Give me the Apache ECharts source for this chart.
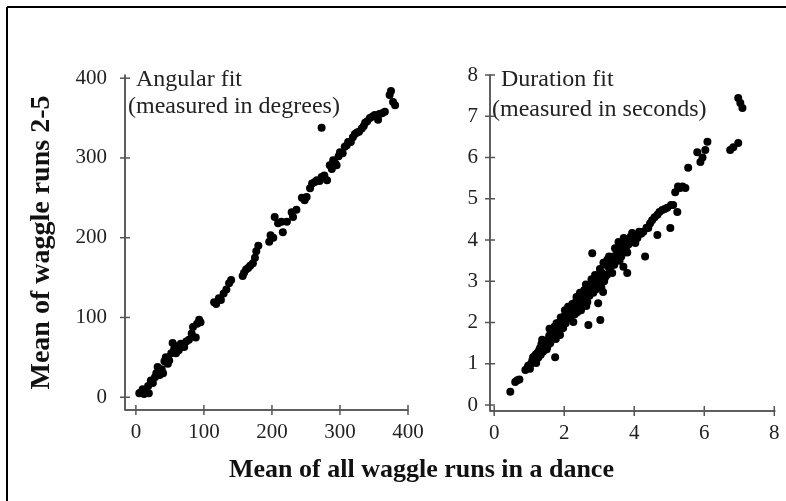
<!DOCTYPE html>
<html>
<head>
<meta charset="utf-8">
<script src="https://cdn.jsdelivr.net/npm/echarts@6/dist/echarts.min.js"></script>
<style>
html,body{margin:0;padding:0;background:#fff}
#main{width:786px;height:501px}
</style>
</head>
<body>
<div id="main"></div>
<script>
// tick labels
var angTicks = [0, 100, 200, 300, 400]
var durTicks = [0, 1, 2, 3, 4, 5, 6, 7, 8]
var durXTicks = [0, 2, 4, 6, 8]

// axis ranges
var angXRange = [-16, 400]
var angYRange = [-16, 404]
var durXRange = [-0.12, 8.02]
var durYRange = [-0.145, 8]

// angular fit: [mean of all runs, mean of runs 2-5] (degrees)
var angPoints = [
    [5,5],[7,6],[10,10],[12,4],[15,9],[18,14],[19,5],[22,21],[25,18],[28,25],[30,30],[32,38],
    [35,28],[38,35],[40,30],[42,45],[44,50],[47,42],[49,46],[52,55],[54,68],[56,60],[59,55],
    [61,64],[63,59],[66,67],[71,63],[74,70],[78,72],[82,80],[84,88],[88,75],[90,92],[93,97],[95,94],
    [115,119],[118,117],[122,124],[125,122],[129,130],[133,135],[137,143],[140,147],
    [157,152],[159,156],[162,160],[165,162],[168,165],[172,168],[175,175],[177,183],[180,190],
    [196,195],[198,203],[202,200],[204,226],[209,218],[214,220],[216,207],[222,220],[229,232],
    [231,226],[236,235],[244,250],[248,247],[251,251],[256,262],[259,268],[263,270],[266,272],
    [270,271],[273,276],[277,278],[281,272],[285,291],[288,286],[290,297],[293,293],[295,291],
    [298,302],[300,307],[304,306],[307,314],[310,316],[312,320],[316,320],[319,326],[322,330],
    [325,332],[328,333],[332,337],[335,340],[337,344],[340,346],[344,350],[348,352],[351,354],
    [356,348],[358,355],[362,356],[366,358],[373,379],[375,384],[378,370],[381,366],[273,338]
]

// duration fit: [mean of all runs, mean of runs 2-5] (seconds)
var durPoints = [
    [0.46,0.32],[0.6,0.56],[0.66,0.6],[0.72,0.62],[0.89,0.85],[0.95,0.9],[0.97,0.95],[1.02,0.88],
    [1.05,1.0],[1.09,1.09],[1.11,1.16],[1.15,1.05],[1.2,1.02],[1.23,1.26],[1.26,1.15],[1.28,1.32],
    [1.31,1.38],[1.33,1.22],[1.37,1.58],[1.4,1.3],[1.42,1.45],[1.46,1.45],[1.48,1.55],[1.5,1.35],
    [1.54,1.58],[1.57,1.68],[1.6,1.5],[1.62,1.75],[1.66,1.82],[1.69,1.65],[1.72,1.9],[1.74,1.16],
    [1.76,1.6],[1.8,1.89],[1.83,1.75],[1.86,2.0],[1.88,1.7],[1.92,1.85],[1.94,2.06],[1.97,1.87],
    [2.0,2.15],[2.04,1.98],[2.08,2.2],[2.11,2.38],[2.14,2.1],[2.17,2.18],[2.2,2.3],[2.23,2.45],
    [2.26,2.01],[2.3,2.2],[2.33,2.5],[2.37,2.25],[2.4,2.4],[2.43,2.6],[2.46,2.47],[2.48,2.3],
    [2.51,2.62],[2.55,2.55],[2.57,2.78],[2.6,2.74],[2.63,2.4],[2.66,2.5],[2.68,2.85],[2.69,1.94],
    [2.72,2.65],[2.74,2.86],[2.77,2.95],[2.8,3.68],[2.83,2.72],[2.86,3.0],[2.9,2.8],[2.94,2.96],
    [2.97,2.47],[3.0,3.1],[3.03,2.06],[3.06,2.85],[3.08,3.2],[3.11,2.74],[3.14,3.0],[3.17,3.1],
    [3.2,3.4],[3.23,3.52],[3.26,3.35],[3.3,3.25],[3.33,3.5],[3.37,3.2],[3.4,3.6],[3.43,3.4],
    [3.46,3.52],[3.5,3.75],[3.54,3.68],[3.58,3.5],[3.6,3.85],[3.63,3.6],[3.66,3.93],[3.69,3.35],
    [3.72,3.8],[3.75,4.0],[3.8,3.2],[3.8,3.7],[3.84,3.9],[3.89,4.07],[3.94,4.17],[3.98,3.95],
    [4.03,3.93],[4.06,4.1],[4.09,4.05],[4.14,4.2],[4.2,4.15],[4.26,4.2],[4.31,3.6],[4.35,4.3],
    [4.4,4.29],[4.45,4.4],[4.51,4.48],[4.58,4.55],[4.66,4.12],[4.66,4.61],[4.72,4.68],[4.8,4.73],
    [4.87,4.75],[4.94,4.78],[5.03,4.29],[5.05,4.85],[5.11,4.85],[5.17,5.16],[5.23,4.68],[5.25,5.3],
    [5.31,5.26],[5.38,5.3],[5.46,5.26],[5.54,5.75],[5.8,6.13],[5.89,5.89],[5.95,6.0],[6.03,6.18],
    [6.09,6.38],[6.74,6.18],[6.83,6.25],[6.97,6.35],[6.97,7.44],[7.03,7.32],[7.09,7.2],
    // extra points filling the wide band between 1 and 4
    [1.18,1.22],[1.35,1.48],[1.52,1.42],[1.58,1.85],[1.7,1.78],[1.78,1.98],[1.9,2.12],[2.02,2.3],
    [2.12,2.22],[2.28,2.35],[2.35,2.62],[2.45,2.72],[2.53,2.42],[2.62,2.92],[2.7,2.75],[2.78,3.05],
    [2.88,3.15],[2.95,2.88],[3.02,3.3],[3.12,3.45],[3.22,3.15],[3.28,3.6],[3.35,3.38],[3.45,3.8],
    [3.55,3.95],[3.62,3.72],[3.7,4.05],[3.78,3.85]
]

var font = '"Liberation Serif", "Times New Roman", serif'
var axisColor = '#555'

function labelAxis(grid, range, ticks, pos, margin){
    return {
        type: 'value', gridIndex: grid, min: range[0], max: range[1], position: pos,
        splitLine: {show: false},
        axisLine: {show: true, onZero: false, lineStyle: {color: axisColor, width: 1.5}},
        axisTick: {show: false},
        axisLabel: {customValues: ticks, margin: margin, color: '#222', fontFamily: font, fontSize: 21}
    }
}
function label(text, left, top, size, bold){
    return {
        text: text, left: left, top: top, padding: 0,
        textStyle: {fontFamily: font, fontSize: size, fontWeight: bold ? 'bold' : 'normal', color: bold ? '#111' : '#222'}
    }
}

var yName = labelAxis(0, angYRange, angTicks, 'left', 18)
yName.name = 'Mean of waggle runs 2-5'
yName.nameLocation = 'middle'
yName.nameRotate = 90
yName.nameGap = 69
yName.nameTextStyle = {fontFamily: font, fontSize: 28, fontWeight: 'bold', color: '#111'}

var myChart = echarts.init(document.getElementById('main'))
var option = {
    backgroundColor: '#fff',
    animation: false,
    title: [
        label('Angular fit', 136, 68, 24),
        label('(measured in degrees)', 128, 95, 24),
        label('Duration fit', 501, 68, 24),
        label('(measured in seconds)', 492, 98, 24),
        label('Mean of all waggle runs in a dance', 229, 457, 26, true)
    ],
    grid: [
        {left: 125, top: 75, width: 283, height: 335},
        {left: 490, top: 75, width: 285, height: 336}
    ],
    xAxis: [
        labelAxis(0, angXRange, angTicks, 'bottom', 12),
        labelAxis(1, durXRange, durXTicks, 'bottom', 12)
    ],
    yAxis: [
        yName,
        labelAxis(1, durYRange, durTicks, 'left', 12)
    ],
    series: [
        {
            name: 'Angular fit', type: 'scatter', xAxisIndex: 0, yAxisIndex: 0,
            symbolSize: 8, itemStyle: {color: '#000', opacity: 1}, data: angPoints
        },
        {
            name: 'Duration fit', type: 'scatter', xAxisIndex: 1, yAxisIndex: 1,
            symbolSize: 8, itemStyle: {color: '#000', opacity: 1}, data: durPoints
        }
    ]
}
myChart.setOption(option)

// axis lines and crossing ticks, placed through the chart's own scales
function seg(x1, y1, x2, y2, color, w){
    return {type: 'line', z: 10, shape: {x1: x1, y1: y1, x2: x2, y2: y2}, style: {stroke: color, lineWidth: w}}
}
function axisGraphics(i, xr, yr, xt, yt){
    var f = {xAxisIndex: i, yAxisIndex: i}
    var o = myChart.convertToPixel(f, [xr[0], yr[0]])
    var xe = myChart.convertToPixel(f, [xr[1], yr[0]])
    var ye = myChart.convertToPixel(f, [xr[0], yr[1]])
    var out = [seg(o[0], o[1], xe[0], xe[1], axisColor, 1.5), seg(o[0], o[1], ye[0], ye[1], axisColor, 1.5)]
    xt.forEach(function(v){
        var p = myChart.convertToPixel(f, [v, yr[0]])
        out.push(seg(p[0], p[1] - 5, p[0], p[1] + 5, axisColor, 1.5))
    })
    yt.forEach(function(v){
        var p = myChart.convertToPixel(f, [xr[0], v])
        out.push(seg(p[0] - 5, p[1], p[0] + 5, p[1], axisColor, 1.5))
    })
    return out
}
var marks = [
    // page frame, top and left edges only
    seg(7, 7, 786, 7, '#000', 2),
    seg(7, 7, 7, 501, '#000', 2)
]
marks = marks.concat(axisGraphics(0, angXRange, angYRange, angTicks, angTicks))
marks = marks.concat(axisGraphics(1, durXRange, durYRange, durXTicks, durTicks))
myChart.setOption({graphic: marks})
</script>
</body>
</html>
